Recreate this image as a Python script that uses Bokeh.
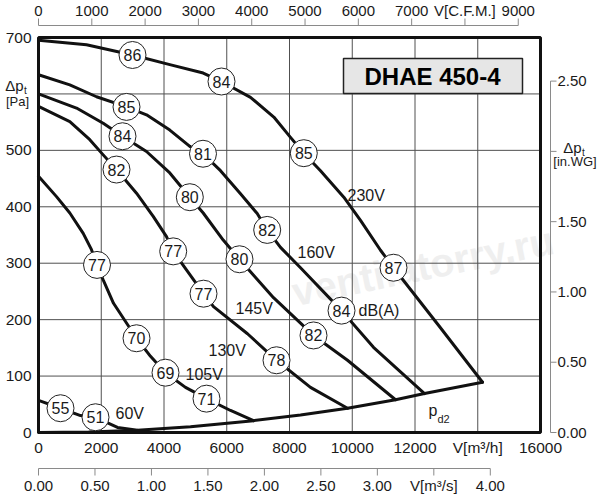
from bokeh.plotting import figure
from bokeh.models import Range1d
from bokeh.core.properties import value
from bokeh.embed import file_html
from bokeh.resources import INLINE

# ---------------- data ----------------
# fan curves: airflow V [m3/h] vs total pressure dp_t [Pa]
x_230 = [0, 1530, 2996, 4185, 5250, 5833, 6757, 7500, 8032, 8456, 8988, 9731, 10263, 10901, 11315, 12749, 14152]
y_230 = [695, 687, 669, 652, 637, 622, 594, 559, 523, 495, 464, 417, 376, 323, 292, 190, 89]

x_160 = [0, 998, 1849, 2805, 3442, 4185, 4823, 5243, 5801, 6438, 6971, 7289, 7713, 8351, 9658, 10677, 12303]
y_160 = [634, 616, 595, 577, 563, 536, 507, 494, 464, 423, 388, 359, 328, 292, 216, 151, 69]

x_145 = [0, 1211, 2062, 2677, 3442, 4185, 4823, 5250, 5887, 6406, 7490, 8765, 9849, 11379]
y_145 = [600, 575, 548, 525, 498, 460, 417, 389, 341, 307, 239, 172, 128, 58]

x_130 = [0, 998, 1635, 2062, 2486, 3124, 3656, 4080, 4293, 5259, 5578, 6661, 7586, 8669, 9849]
y_130 = [578, 551, 519, 492, 466, 424, 383, 347, 321, 246, 223, 175, 128, 80, 43]

x_105 = [0, 574, 998, 1425, 1689, 1865, 2072, 2391, 3124, 3570, 4048, 4685, 5355, 6120, 6853]
y_105 = [454, 418, 389, 353, 324, 297, 269, 229, 167, 135, 106, 80, 60, 39, 21]

x_60 = [0, 701, 1339, 1817, 2518, 3155]
y_60 = [57, 43, 30, 27, 9, 4]

# dynamic pressure p_d2
x_pd2 = [0, 1600, 3155, 4845, 6853, 8351, 9849, 11379, 12303, 14152]
y_pd2 = [0, 1, 4, 10, 21, 31, 43, 58, 69, 89]

# sound level markers dB(A)
db_x = [2996, 5833, 8456, 11315,
        2805, 5243, 7289, 9658,
        2677, 4823, 6406, 8765,
        2486, 4293, 5259, 7586,
        1865, 3124, 4048, 5355,
        701, 1817]
db_y = [669, 622, 495, 292,
        577, 494, 359, 216,
        525, 417, 307, 172,
        466, 321, 246, 128,
        297, 167, 106, 60,
        43, 27]
db_val = ["86", "84", "85", "87",
          "85", "81", "82", "84",
          "84", "80", "80", "82",
          "82", "77", "77", "78",
          "77", "70", "69", "71",
          "55", "51"]

# voltage labels
volt_text = ["230V", "160V", "145V", "130V", "105V", "60V"]
volt_x = [9849, 8255, 6279, 5418, 4685, 2454]
volt_y = [420, 319, 220, 145, 103, 34]

# axes
m3h_ticks = [0, 2000, 4000, 6000, 8000, 10000, 12000, 14000, 16000]
m3h_labels = ["0", "2000", "4000", "6000", "8000", "10000", "12000", "V[m³/h]", "16000"]
pa_ticks = [0, 100, 200, 300, 400, 500, 700]
pa_labels = ["0", "100", "200", "300", "400", "500", "700"]
cfm_ticks = [0, 1000, 2000, 3000, 4000, 5000, 6000, 7000, 8000, 9000]
cfm_labels = ["0", "1000", "2000", "3000", "4000", "5000", "6000", "7000", "V[C.F.M.]", "9000"]
m3s_ticks = [0, 0.5, 1.0, 1.5, 2.0, 2.5, 3.0, 3.5, 4.0]
m3s_labels = ["0.00", "0.50", "1.00", "1.50", "2.00", "2.50", "3.00", "V[m³/s]", "4.00"]
inwg_ticks = [0, 0.5, 1.0, 1.5, 2.0, 2.5]
inwg_labels = ["0.00", "0.50", "1.00", "1.50", "", "2.50"]
grid_x = [2000, 4000, 6000, 8000, 10000, 12000, 14000]
grid_y = [100, 200, 300, 400, 500, 600]

CFM_TO_M3H = 1.69901
M3S_TO_M3H = 3600.0
INWG_TO_PA = 249.089

XMAX, YMAX = 16000, 700

# ---------------- layout helpers (picture pixels -> data) ----------------
W, H = 600, 500
MARGIN = 0
FL, FR, FT, FB = 38, 540, 37, 432  # main frame in the picture
sx = XMAX / (FR - FL)
sy = YMAX / (FB - FT)


def X(px):
    return (px - FL) * sx


def Y(py):
    return (FB - py) * sy


p = figure(width=W, height=H, output_backend="svg", toolbar_location=None,
           x_range=Range1d(X(MARGIN), X(MARGIN + W)),
           y_range=Range1d(Y(MARGIN + H), Y(MARGIN)),
           x_axis_location=None, y_axis_location=None, min_border=0)
p.outline_line_color = None
p.grid.visible = False
p.background_fill_color = "white"
p.border_fill_color = "white"

FONT = value("Liberation Sans")
TXT = "#1a1a1a"

# watermark
p.text(x=[X(292)], y=[Y(292)], text=["ventilatorry.ru"], angle=0.2, text_font=FONT,
       text_font_style="bold", text_font_size="40px", text_color="#efefef",
       text_align="left", text_baseline="alphabetic")

# grid
p.segment(x0=grid_x, y0=[0] * len(grid_x), x1=grid_x, y1=[YMAX] * len(grid_x),
          line_color="#505050", line_width=1)
p.segment(x0=[0] * len(grid_y), y0=grid_y, x1=[XMAX] * len(grid_y), y1=grid_y,
          line_color="#505050", line_width=1)

# title box
p.quad(left=[X(343)], right=[X(522)], bottom=[Y(93)], top=[Y(58)],
       fill_color="#e6e6e6", line_color="#222222", line_width=1.5)
p.text(x=[X(432)], y=[Y(76)], text=["DHAE 450-4"], text_font=FONT, text_font_style="bold",
       text_font_size="24px", text_color="black", text_align="center", text_baseline="middle")

# curves
for xs, ys in [(x_230, y_230), (x_160, y_160), (x_145, y_145), (x_130, y_130),
               (x_105, y_105), (x_60, y_60), (x_pd2, y_pd2)]:
    p.line(xs, ys, line_color="#111111", line_width=3, line_join="round", line_cap="round")

# frame
p.quad(left=[0], right=[XMAX], bottom=[0], top=[YMAX], fill_color=None,
       line_color="#111111", line_width=3)

# dB markers
p.scatter(db_x, db_y, marker="circle", size=27, fill_color="white",
          line_color="#222222", line_width=1)
p.text(x=db_x, y=db_y, text=db_val, text_font=FONT, text_font_size="16px",
       text_color=TXT, text_align="center", text_baseline="middle")

# voltage labels
p.text(x=volt_x, y=volt_y, text=volt_text, text_font=FONT, text_font_size="16px",
       text_color=TXT, text_align="left", text_baseline="middle")
p.text(x=[X(358)], y=[Y(310)], text=["dB(A)"], text_font=FONT, text_font_size="16px",
       text_color=TXT, text_align="left", text_baseline="middle")
# p_d2
p.text(x=[X(428)], y=[Y(410)], text=["p"], text_font=FONT, text_font_size="16px",
       text_color=TXT, text_align="left", text_baseline="middle")
p.text(x=[X(437)], y=[Y(418)], text=["d2"], text_font=FONT, text_font_size="11px",
       text_color=TXT, text_align="left", text_baseline="middle")

# left Pa labels
p.text(x=[X(31)] * len(pa_ticks), y=pa_ticks, text=pa_labels, text_font=FONT,
       text_font_size="15.5px", text_color=TXT, text_align="right", text_baseline="middle")
p.text(x=[X(23)], y=[Y(85)], text=["Δp"], text_font=FONT, text_font_size="15px",
       text_color=TXT, text_align="right", text_baseline="middle")
p.text(x=[X(23.5)], y=[Y(90)], text=["t"], text_font=FONT, text_font_size="10px",
       text_color=TXT, text_align="left", text_baseline="middle")
p.text(x=[X(17)], y=[Y(101)], text=["[Pa]"], text_font=FONT, text_font_size="13px",
       text_color=TXT, text_align="center", text_baseline="middle")

# bottom m3/h labels
p.text(x=m3h_ticks, y=[Y(447)] * len(m3h_ticks), text=m3h_labels, text_font=FONT,
       text_font_size="15.5px", text_color=TXT, text_align="center", text_baseline="middle")

AX = "#8a8a8a"
# top CFM axis
cx = [c * CFM_TO_M3H for c in cfm_ticks]
p.segment(x0=[cx[0]], y0=[Y(25)], x1=[cx[-1]], y1=[Y(25)], line_color=AX, line_width=1)
p.segment(x0=cx, y0=[Y(25)] * len(cx), x1=cx, y1=[Y(18)] * len(cx), line_color=AX, line_width=1)
p.text(x=cx, y=[Y(10)] * len(cx), text=cfm_labels, text_font=FONT, text_font_size="15px",
       text_color=TXT, text_align="center", text_baseline="middle")

# bottom m3/s axis
sxs = [v * M3S_TO_M3H for v in m3s_ticks]
p.segment(x0=[sxs[0]], y0=[Y(468)], x1=[sxs[-1]], y1=[Y(468)], line_color=AX, line_width=1)
p.segment(x0=sxs, y0=[Y(468)] * len(sxs), x1=sxs, y1=[Y(475)] * len(sxs), line_color=AX, line_width=1)
p.text(x=sxs, y=[Y(485)] * len(sxs), text=m3s_labels, text_font=FONT, text_font_size="15px",
       text_color=TXT, text_align="center", text_baseline="middle")

# right in.WG axis
wy = [v * INWG_TO_PA for v in inwg_ticks]
p.segment(x0=[X(550)], y0=[wy[0]], x1=[X(550)], y1=[wy[-1]], line_color=AX, line_width=1)
p.segment(x0=[X(550)] * len(wy), y0=wy, x1=[X(556)] * len(wy), y1=wy, line_color=AX, line_width=1)
p.text(x=[X(557)] * len(wy), y=wy, text=inwg_labels, text_font=FONT, text_font_size="15px",
       text_color=TXT, text_align="left", text_baseline="middle")
p.text(x=[X(581)], y=[Y(147)], text=["Δp"], text_font=FONT, text_font_size="15px",
       text_color=TXT, text_align="right", text_baseline="middle")
p.text(x=[X(581.5)], y=[Y(152)], text=["t"], text_font=FONT, text_font_size="10px",
       text_color=TXT, text_align="left", text_baseline="middle")
p.text(x=[X(574.5)], y=[Y(161)], text=["[in.WG]"], text_font=FONT, text_font_size="13px",
       text_color=TXT, text_align="center", text_baseline="middle")

open("out.html", "w").write(file_html(p, INLINE))
